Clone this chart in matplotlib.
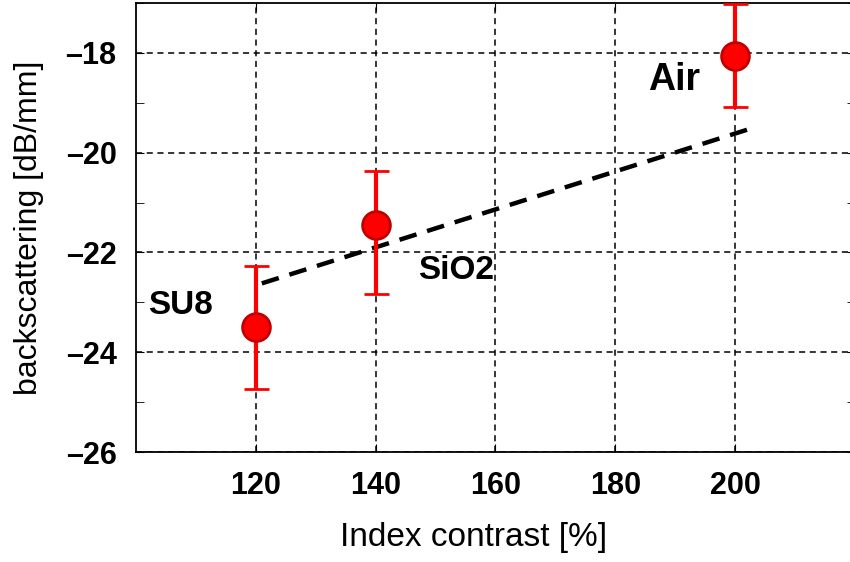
import matplotlib.pyplot as plt
from matplotlib.ticker import MultipleLocator, FuncFormatter

plt.rcParams['font.family'] = ['Liberation Sans', 'DejaVu Sans']

# measured points
materials = ['SU8', 'SiO2', 'Air']
contrast = [120, 140, 200]
backscatter = [-23.5, -21.45, -18.07]
err_low = [1.23, 1.38, 1.02]
err_high = [1.22, 1.08, 1.05]

# linear trend
fit_x = [121, 202]
fit_y = [-22.62, -19.54]

label_pos = {'SU8': (102, -23.06), 'SiO2': (147, -22.36), 'Air': (185.5, -18.54)}
label_size = {'SU8': 24, 'SiO2': 24, 'Air': 27}

fig = plt.figure(figsize=(8.5, 5.62), dpi=100)
ax = fig.add_axes([136 / 850, 110 / 562, 719 / 850, 449 / 562])

ax.grid(True, which='major', linestyle=(0, (4, 3)), color='black', linewidth=1.1)
ax.set_axisbelow(True)

ax.plot(fit_x, fit_y, color='black', linestyle=(0, (4, 2.5)), linewidth=3.2, zorder=3)

ax.errorbar(contrast, backscatter, yerr=[err_low, err_high], fmt='o',
            color='#ff0000', ecolor='#ff0000', elinewidth=3, capsize=9, capthick=3,
            markersize=20, markerfacecolor='#ff0000', markeredgecolor='#c00000',
            markeredgewidth=2, zorder=4)

for name in materials:
    x, y = label_pos[name]
    ax.text(x, y, name, fontsize=label_size[name], fontweight='bold', va='center', ha='left')

ax.set_xlim(100, 220)
ax.set_ylim(-26, -17)
ax.set_xticks([120, 140, 160, 180, 200])
ax.yaxis.set_major_locator(MultipleLocator(2))
ax.yaxis.set_minor_locator(MultipleLocator(1))
ax.yaxis.set_major_formatter(FuncFormatter(lambda v, p: f'{v:.0f}'.replace('-', '\u2013')))
ax.tick_params(axis='both', which='both', direction='in', top=True, right=True)
ax.tick_params(axis='both', which='major', length=6, labelsize=22)
ax.tick_params(axis='x', which='major', pad=14)
ax.tick_params(axis='y', which='major', pad=14)
ax.tick_params(axis='y', which='minor', length=6)
for lab in ax.get_xticklabels() + ax.get_yticklabels():
    lab.set_fontweight('bold')

ax.set_xlabel('Index contrast [%]', fontsize=24)
ax.xaxis.set_label_coords(0.469, -0.155)
ax.set_ylabel('backscattering [dB/mm]', fontsize=23)
ax.yaxis.set_label_coords(-0.128, 0.5)
for sp in ax.spines.values():
    sp.set_linewidth(1.3)

fig.savefig('out.png', dpi=100)
